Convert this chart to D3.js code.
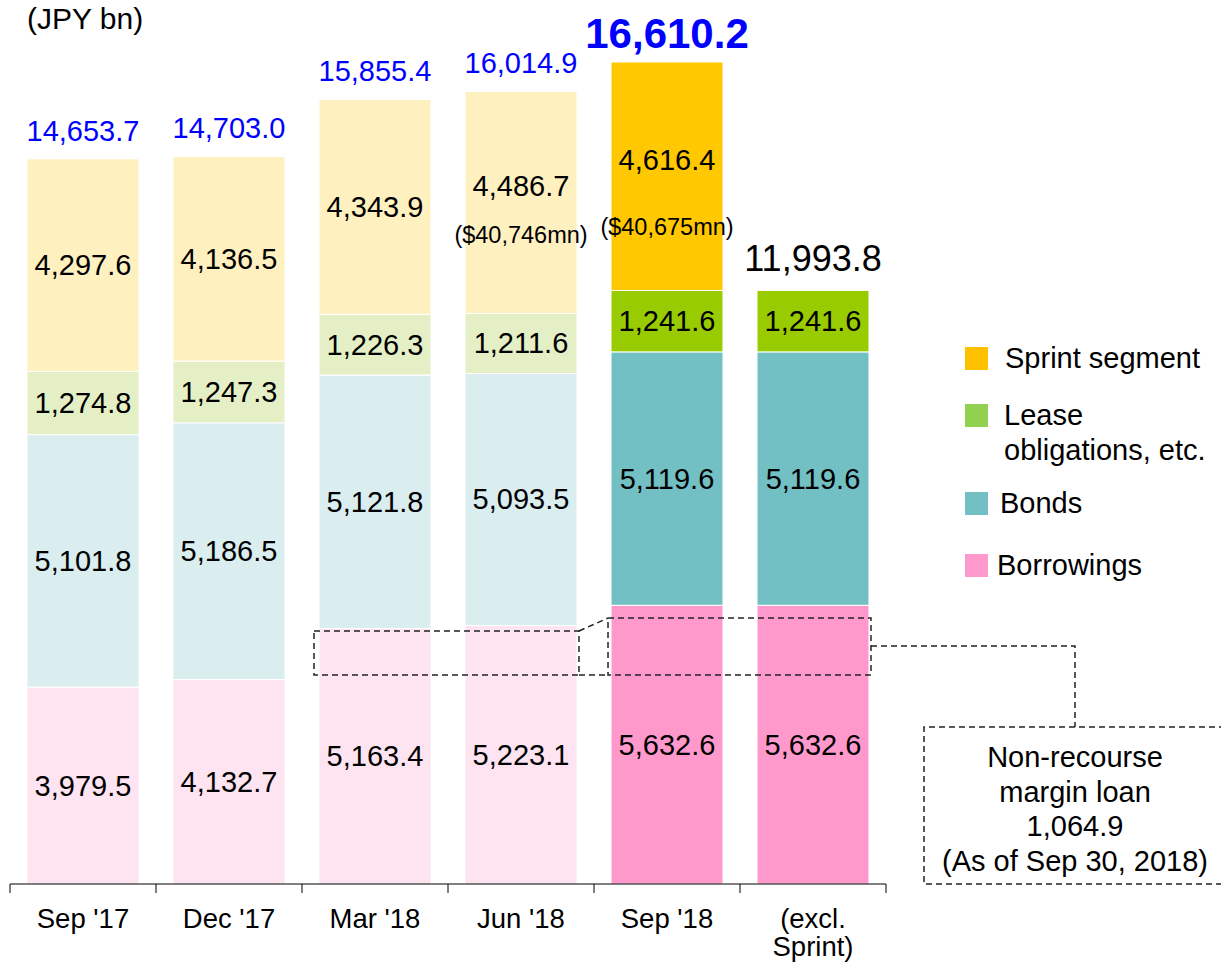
<!DOCTYPE html>
<html>
<head>
<meta charset="utf-8">
<script src="https://cdn.jsdelivr.net/npm/d3@7"></script>
<style>
  html, body { margin: 0; padding: 0; background: #fff; }
  svg { display: block; font-family: "Liberation Sans", Arial, sans-serif; }
</style>
</head>
<body>
<svg id="chart" width="1221" height="964"></svg>
<script>
'use strict';

const categories = ["Sep '17", "Dec '17", "Mar '18", "Jun '18", "Sep '18", "(excl.\nSprint)"];
const borrowings = [3979.5, 4132.7, 5163.4, 5223.1, 5632.6, 5632.6];
const bonds = [5101.8, 5186.5, 5121.8, 5093.5, 5119.6, 5119.6];
const lease = [1274.8, 1247.3, 1226.3, 1211.6, 1241.6, 1241.6];
const sprint = [4297.6, 4136.5, 4343.9, 4486.7, 4616.4, 0];
const seriesNames = ["Borrowings", "Bonds", "Lease obligations, etc.", "Sprint segment"];
const usdNotes = [null, null, null, "($40,746mn)", "($40,675mn)", null];
const marginLoan = ["Non-recourse", "margin loan", "1,064.9", "(As of Sep 30, 2018)"];

const svg = d3.select("#chart");
const fmt = d3.format(",.1f");

const lightColors = ["#fde4f0", "#daedef", "#e5efc5", "#fff0c0"];
const darkColors = ["#ff99cc", "#72bfc4", "#99cc00", "#ffc800"];
const legendColors = ["#ff99cc", "#72bfc4", "#92d050", "#ffc000"];

const x = d3.scaleBand()
  .domain(categories)
  .range([10, 886])
  .paddingInner(0.233)
  .paddingOuter(0.1165);

const y = d3.scaleLinear().domain([0, 16610.2]).range([884, 62]);

const rows = categories.map((c, i) => ({
  cat: c, i,
  Borrowings: borrowings[i],
  Bonds: bonds[i],
  "Lease obligations, etc.": lease[i],
  "Sprint segment": sprint[i]
}));
const stacked = d3.stack().keys(seriesNames)(rows);

// bars
stacked.forEach((layer, k) => {
  svg.append("g").selectAll("rect")
    .data(layer.filter(d => d[1] > d[0]))
    .join("rect")
    .attr("x", d => x(d.data.cat))
    .attr("width", x.bandwidth())
    .attr("y", d => y(d[1]))
    .attr("height", d => y(d[0]) - y(d[1]))
    .attr("fill", d => d.data.i >= 4 ? darkColors[k] : lightColors[k])
    .attr("stroke", "#fff")
    .attr("stroke-width", 1);

  svg.append("g").selectAll("text")
    .data(layer.filter(d => d[1] > d[0]))
    .join("text")
    .attr("x", d => x(d.data.cat) + x.bandwidth() / 2)
    .attr("y", d => {
      let cy = (y(d[0]) + y(d[1])) / 2 + 10;
      if (k === 3 && usdNotes[d.data.i]) cy -= 16;
      return cy;
    })
    .attr("text-anchor", "middle")
    .attr("font-size", 29)
    .attr("fill", "#000")
    .text(d => fmt(d[1] - d[0]));
});

// USD notes in Sprint segment
const noteDy = { 3: 33, 4: 51 };
const topLayer = stacked[3];
svg.append("g").selectAll("text")
  .data(topLayer.filter(d => usdNotes[d.data.i]))
  .join("text")
  .attr("x", d => x(d.data.cat) + x.bandwidth() / 2)
  .attr("y", d => (y(d[0]) + y(d[1])) / 2 + noteDy[d.data.i] + 8)
  .attr("text-anchor", "middle")
  .attr("font-size", 23.5)
  .attr("fill", "#000")
  .text(d => usdNotes[d.data.i]);

// totals
svg.append("g").selectAll("text")
  .data(topLayer)
  .join("text")
  .attr("x", d => x(d.data.cat) + x.bandwidth() / 2)
  .attr("y", d => y(d[1]) - (d.data.i === 4 ? 14 : d.data.i === 5 ? 19 : 18))
  .attr("text-anchor", "middle")
  .attr("font-size", d => d.data.i === 4 ? 42 : d.data.i === 5 ? 36 : 29)
  .attr("font-weight", d => d.data.i === 4 ? "bold" : "normal")
  .attr("fill", d => d.data.i === 5 ? "#000" : "#0000ff")
  .text(d => fmt(d[1]));

// x axis
const step = x.step();
const bounds = categories.map(c => x(c) - step * x.paddingInner() / 2)
  .concat([x(categories[categories.length - 1]) + x.bandwidth() + step * x.paddingInner() / 2]);
const axis = svg.append("g");
axis.append("line")
  .attr("x1", bounds[0]).attr("x2", bounds[bounds.length - 1])
  .attr("y1", y(0)).attr("y2", y(0))
  .attr("stroke", "#000").attr("stroke-width", 1);
axis.selectAll("line.tick")
  .data(bounds)
  .join("line")
  .attr("class", "tick")
  .attr("x1", d => d).attr("x2", d => d)
  .attr("y1", y(0)).attr("y2", y(0) + 9)
  .attr("stroke", "#000");
axis.selectAll("text")
  .data(categories)
  .join("text")
  .attr("x", d => x(d) + x.bandwidth() / 2)
  .attr("y", y(0) + 44)
  .attr("text-anchor", "middle")
  .attr("font-size", 27.5)
  .attr("fill", "#000")
  .each(function(d) {
    d3.select(this).selectAll("tspan")
      .data(d.split("\n"))
      .join("tspan")
      .attr("x", x(d) + x.bandwidth() / 2)
      .attr("dy", (t, j) => j === 0 ? 0 : 28)
      .text(t => t);
  });

// unit label
svg.append("text")
  .attr("x", 27).attr("y", 29)
  .attr("font-size", 30)
  .attr("fill", "#000")
  .text("(JPY bn)");

// legend
const legendRows = [
  { k: 3, sy: 358, tx: 1005, lines: ["Sprint segment"] },
  { k: 2, sy: 415, tx: 1004, lines: ["Lease", "obligations, etc."] },
  { k: 1, sy: 503, tx: 1000, lines: ["Bonds"] },
  { k: 0, sy: 565, tx: 997, lines: ["Borrowings"] }
];
const legend = svg.append("g");
legendRows.forEach(r => {
  legend.append("rect")
    .attr("x", 965).attr("y", r.sy - 11)
    .attr("width", 23).attr("height", 23)
    .attr("fill", legendColors[r.k]);
  const t = legend.append("text")
    .attr("x", r.tx).attr("y", r.sy + 10)
    .attr("font-size", 29)
    .attr("fill", "#000");
  r.lines.forEach((line, j) => {
    t.append("tspan")
      .attr("x", r.tx)
      .attr("dy", j === 0 ? 0 : 35)
      .text(line);
  });
});

// margin loan annotation (dashed)
const ann = svg.append("g")
  .attr("stroke", "#222")
  .attr("stroke-width", 1.5)
  .attr("stroke-dasharray", "6,4")
  .attr("fill", "none");
const b1x0 = x("Mar '18") - 5, b1x1 = x("Jun '18") + x.bandwidth() + 2;
const b2x0 = x("Sep '18") - 3, b2x1 = x(categories[5]) + x.bandwidth() + 2;
ann.append("path").attr("d", `M${b1x0},631 H${b1x1} V675 H${b1x0} Z`);
ann.append("path").attr("d", `M${b2x0},618 H${b2x1} V675 H${b2x0} Z`);
ann.append("path").attr("d", `M${b1x1},631 L${b2x0},618 M${b1x1},675 H${b2x0}`);
ann.append("path").attr("d", `M${b2x1},646 H1075 V727`);
ann.append("path").attr("d", `M1235,727 H924 V884 H1235`);

svg.append("text")
  .attr("x", 1075).attr("y", 767)
  .attr("text-anchor", "middle")
  .attr("font-size", 29)
  .attr("fill", "#000")
  .selectAll("tspan")
  .data(marginLoan)
  .join("tspan")
  .attr("x", 1075)
  .attr("dy", (d, j) => j === 0 ? 0 : 34.5)
  .text(d => d);
</script>
</body>
</html>
